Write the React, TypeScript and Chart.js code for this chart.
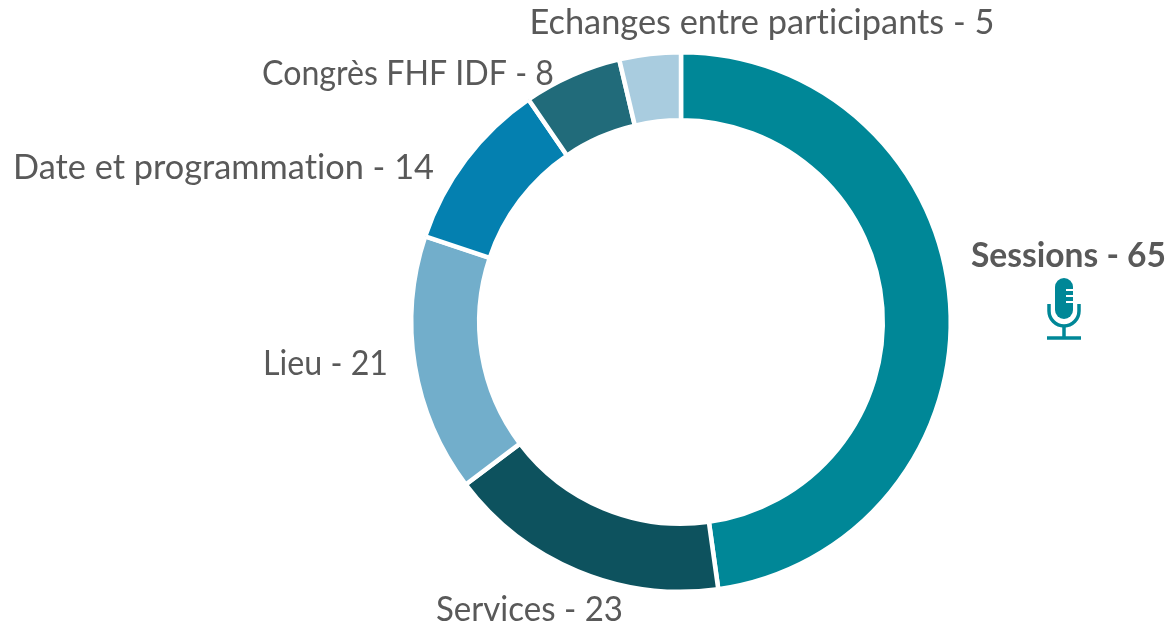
import React, { useEffect, useRef } from "react";
import { Chart, registerables } from "chart.js";

Chart.register(...registerables);

const categories = ["Sessions", "Services", "Lieu", "Date et programmation", "Congrès FHF IDF", "Echanges entre participants"];
const values = [65, 23, 21, 14, 8, 5];
const colors = ["#008797", "#0D525E", "#72AECB", "#0480B0", "#216B7A", "#A9CCDF"];
const labelAnchors: [number, number, boolean, number][] = [
  [1068.5, 267, true, 195],
  [529.5, 621, false, 187],
  [325.5, 375, false, 125],
  [223.5, 179, false, 421],
  [408, 85, false, 292],
  [762, 34, false, 465],
];
const FONT = "Lato, 'Open Sans', sans-serif";
const TEXT = "#595959";

const labelsPlugin = {
  id: "sliceLabels",
  afterDraw(chart: any) {
    const ctx = chart.ctx;
    ctx.save();
    ctx.textAlign = "center";
    ctx.textBaseline = "alphabetic";
    ctx.fillStyle = TEXT;
    ctx.textRendering = "optimizeSpeed";
    categories.forEach((c, i) => {
      const [x, y, bold, maxW] = labelAnchors[i];
      ctx.font = `${bold ? "bold " : ""}${bold ? 33.8 : 34.4}px ${FONT}`;
      ctx.fillText(`${c} - ${values[i]}`, x, y, maxW);
    });
    // microphone icon
    const mx = 1064;
    ctx.fillStyle = colors[0];
    ctx.beginPath();
    ctx.roundRect(mx - 9, 278, 18, 41, 9);
    ctx.fill();
    ctx.strokeStyle = "#fff";
    ctx.lineWidth = 2;
    [290, 296, 302].forEach((y) => {
      ctx.beginPath();
      ctx.moveTo(mx + 2, y);
      ctx.lineTo(mx + 10, y);
      ctx.stroke();
    });
    ctx.strokeStyle = colors[0];
    ctx.lineWidth = 3.5;
    ctx.beginPath();
    ctx.moveTo(mx - 15, 304);
    ctx.lineTo(mx - 15, 311);
    ctx.arc(mx, 311, 15, Math.PI, 0, true);
    ctx.lineTo(mx + 15, 304);
    ctx.stroke();
    ctx.beginPath();
    ctx.moveTo(mx, 326);
    ctx.lineTo(mx, 337);
    ctx.stroke();
    ctx.beginPath();
    ctx.moveTo(mx - 17, 338);
    ctx.lineTo(mx + 17, 338);
    ctx.stroke();
    ctx.restore();
  },
};

export default function App() {
  const ref = useRef<HTMLCanvasElement | null>(null);
  useEffect(() => {
    document.body.style.margin = "0";
    document.body.style.overflow = "hidden";
    const chart = new Chart(ref.current!, {
      type: "doughnut",
      data: {
        labels: categories,
        datasets: [{ data: values, backgroundColor: colors, borderColor: "#fff", borderWidth: 4.5 }],
      },
      options: {
        animation: false,
        responsive: false,
        cutout: "74.8%",
        layout: { padding: { left: 409, right: 219, top: 50, bottom: 30 } },
        plugins: { legend: { display: false }, tooltip: { enabled: false } },
      },
      plugins: [labelsPlugin],
    });
    return () => chart.destroy();
  }, []);
  return <canvas ref={ref} width={1172} height={624} style={{ display: "block" }} />;
}
